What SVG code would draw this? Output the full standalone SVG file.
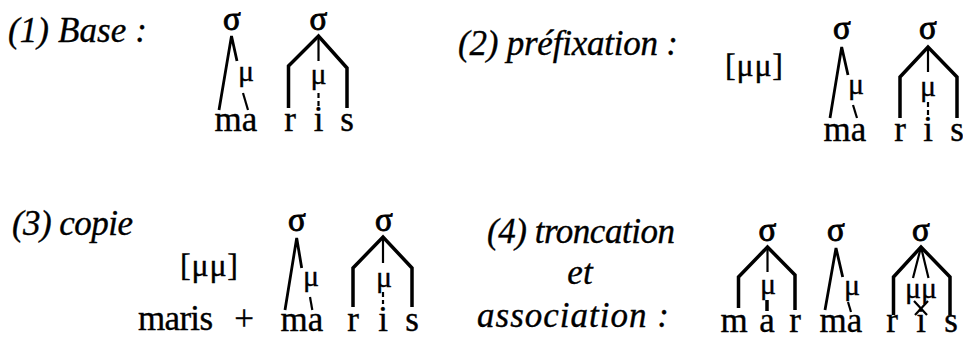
<svg xmlns="http://www.w3.org/2000/svg" width="963" height="344" viewBox="0 0 963 344" font-family="'Liberation Serif', 'DejaVu Serif', 'Times New Roman', serif">
  <style>
    text { font-family: "Liberation Serif", "DejaVu Serif", "Times New Roman", serif; fill: #000; stroke: #000; stroke-width: 0.35; }
    .lbl { font-size: 35px; font-style: italic; }
    .seg { font-size: 35px; text-anchor: middle; }
    .sig { font-size: 33px; text-anchor: middle; stroke-width: 0.9; }
    .mu { font-size: 30px; text-anchor: middle; }
    .tpl { font-size: 32px; }
    .br { fill: none; stroke: #000; stroke-width: 3.5; stroke-linejoin: miter; stroke-linecap: butt; }
    .lg { fill: none; stroke: #000; stroke-width: 2.8; stroke-linecap: butt; stroke-linejoin: miter; }
    .th { fill: none; stroke: #000; stroke-width: 2.2; stroke-linecap: butt; }
  </style>
  <rect width="963" height="344" fill="#fff"/>

  <!-- (1) Base -->
  <g id="label-1"><text class="lbl" x="8" y="42" textLength="139" lengthAdjust="spacing">(1) Base :</text></g>
  <g id="p1-sigma-a"><text class="sig" x="232" y="30">σ</text></g>
  <g id="p1-mu-a"><text class="mu" x="246" y="81">μ</text></g>
  <g id="p1-ma"><text class="seg" x="236" y="131">ma</text></g>
  <g id="p1-sigma-b"><text class="sig" x="318.5" y="30">σ</text></g>
  <g id="p1-mu-b"><text class="mu" x="318.5" y="84">μ</text></g>
  <g id="p1-r"><text class="seg" x="290" y="131">r</text></g>
  <g id="p1-i"><text class="seg" x="318.5" y="131">i</text></g>
  <g id="p1-s"><text class="seg" x="347" y="131">s</text></g>

  <!-- (2) préfixation -->
  <g id="label-2"><text class="lbl" x="458" y="55" textLength="220" lengthAdjust="spacing">(2) préfixation :</text></g>
  <g id="p2-template"><text class="tpl" x="725" y="76" textLength="58" lengthAdjust="spacing">[μμ]</text></g>
  <g id="p2-sigma-a"><text class="sig" x="842" y="39">σ</text></g>
  <g id="p2-mu-a"><text class="mu" x="856" y="94">μ</text></g>
  <g id="p2-ma"><text class="seg" x="845" y="141">ma</text></g>
  <g id="p2-sigma-b"><text class="sig" x="928" y="39">σ</text></g>
  <g id="p2-mu-b"><text class="mu" x="928" y="96">μ</text></g>
  <g id="p2-r"><text class="seg" x="900" y="141">r</text></g>
  <g id="p2-i"><text class="seg" x="928" y="141">i</text></g>
  <g id="p2-s"><text class="seg" x="957" y="141">s</text></g>

  <!-- (3) copie -->
  <g id="label-3"><text class="lbl" x="12" y="235" textLength="121" lengthAdjust="spacing">(3) copie</text></g>
  <g id="p3-template"><text class="tpl" x="180" y="276" textLength="58" lengthAdjust="spacing">[μμ]</text></g>
  <g id="p3-maris"><text class="seg" x="175.5" y="330" textLength="75" lengthAdjust="spacing">maris</text></g>
  <g id="p3-plus"><text class="seg" x="244" y="330">+</text></g>
  <g id="p3-sigma-a"><text class="sig" x="297" y="231">σ</text></g>
  <g id="p3-mu-a"><text class="mu" x="311" y="286">μ</text></g>
  <g id="p3-ma"><text class="seg" x="302" y="331">ma</text></g>
  <g id="p3-sigma-b"><text class="sig" x="384" y="231">σ</text></g>
  <g id="p3-mu-b"><text class="mu" x="384" y="287">μ</text></g>
  <g id="p3-r"><text class="seg" x="353" y="331">r</text></g>
  <g id="p3-i"><text class="seg" x="383" y="331">i</text></g>
  <g id="p3-s"><text class="seg" x="412" y="331">s</text></g>

  <!-- (4) troncation et association -->
  <g id="label-4">
    <text class="lbl" x="487" y="243" textLength="188" lengthAdjust="spacing">(4) troncation</text>
    <text class="lbl" x="580" y="284" text-anchor="middle">et</text>
    <text class="lbl" x="477" y="327" textLength="192" lengthAdjust="spacing">association :</text>
  </g>
  <g id="p4-sigma-a"><text class="sig" x="767.5" y="241">σ</text></g>
  <g id="p4-mu-a"><text class="mu" x="768" y="294">μ</text></g>
  <g id="p4-m"><text class="seg" x="734" y="332">m</text></g>
  <g id="p4-a"><text class="seg" x="767" y="332">a</text></g>
  <g id="p4-r"><text class="seg" x="795" y="332">r</text></g>
  <g id="p4-sigma-b"><text class="sig" x="836" y="241">σ</text></g>
  <g id="p4-mu-b"><text class="mu" x="852" y="295">μ</text></g>
  <g id="p4-ma"><text class="seg" x="841" y="332">ma</text></g>
  <g id="p4-sigma-c"><text class="sig" x="921" y="241">σ</text></g>
  <g id="p4-mumu"><text class="mu" x="921" y="298">μμ</text></g>
  <g id="p4-r2"><text class="seg" x="892" y="332">r</text></g>
  <g id="p4-i"><text class="seg" x="921" y="332">i</text></g>
  <g id="p4-s"><text class="seg" x="951" y="332">s</text></g>

  <!-- association lines -->
  <g id="connectors">
    <!-- (1) -->
    <path class="lg" d="M219,110 L231.5,36 L237,61"/>
    <path class="th" d="M243,93 L248,110"/>
    <path class="br" d="M288.5,108 L288.5,66 L318.5,36 L347,68 L347,108"/>
    <path class="th" d="M318.5,36 L318.5,61"/>
    <path class="th" d="M318.5,93 L318.5,106" stroke-dasharray="5,3"/>
    <!-- (2) -->
    <path class="lg" d="M830,118 L841.7,47 L848,75"/>
    <path class="th" d="M853,105 L857,118"/>
    <path class="br" d="M900,118 L900,77 L928,47 L957,77 L957,118"/>
    <path class="th" d="M928,47 L928,72"/>
    <path class="th" d="M928,102 L928,116" stroke-dasharray="5,3"/>
    <!-- (3) -->
    <path class="lg" d="M285,310 L296.7,238 L301.7,268"/>
    <path class="th" d="M310,297 L312.3,310"/>
    <path class="br" d="M353,307 L353,268 L383,237 L412,268 L412,307"/>
    <path class="th" d="M383,237 L383,263"/>
    <path class="th" d="M383,292 L383,304" stroke-dasharray="5,3"/>
    <!-- (4) -->
    <path class="br" d="M738.5,308 L738.5,277 L767.5,247 L795,275 L795,310"/>
    <path class="th" d="M767.5,247 L767.5,272"/>
    <path class="br" d="M767,300 L767,311"/>
    <path class="lg" d="M825,310 L836,248 L842.7,277"/>
    <path class="th" d="M848,302 L851,312"/>
    <path class="br" d="M893.5,315 L893.5,277 L921,247 L950,277 L950,315"/>
    <path class="th" d="M921,247 L913,278 M921,247 L928.5,278"/>
    <path class="th" d="M914,301 L927,315 M928,301 L915,315"/>
  </g>
</svg>
